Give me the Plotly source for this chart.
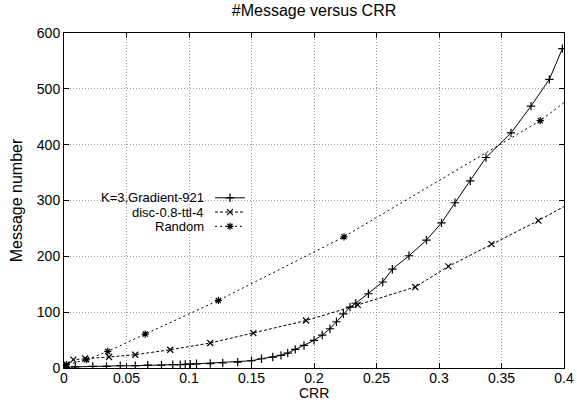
import plotly.graph_objects as go

# ---- data ----
grad_x = [0.0, 0.001, 0.009, 0.023, 0.034, 0.045, 0.057, 0.067, 0.078, 0.087, 0.093, 0.097,
          0.101, 0.106, 0.117, 0.127, 0.139, 0.150, 0.158, 0.167, 0.1736, 0.179, 0.185,
          0.192, 0.200, 0.2066, 0.2128, 0.218, 0.2235, 0.2288, 0.2334, 0.2435, 0.255,
          0.2627, 0.276, 0.290, 0.302, 0.3128, 0.325, 0.3376, 0.3576, 0.3736, 0.3883, 0.3987]
grad_y = [0, 1, 2, 3, 3, 4, 4, 5, 5, 6, 6, 6.5,
          7, 7.5, 8, 9, 10.5, 13, 16.6, 19.6, 22.6, 26.8, 33.3,
          40.4, 49.4, 59, 70.3, 82.8, 97, 109, 116, 133, 154,
          177, 201, 229, 260, 296, 335, 377, 421, 469, 517, 572]

disc_x = [0.0, 0.002, 0.0075, 0.017, 0.036, 0.057, 0.085, 0.117, 0.1515, 0.1936,
          0.235, 0.281, 0.3075, 0.342, 0.3795, 0.43]
disc_y = [2, 6, 15, 17, 19.7, 23.8, 32.7, 44.7, 62.6, 85,
          113, 145, 182, 222, 264, 326]

rand_x = [0.0, 0.002, 0.018, 0.035, 0.065, 0.1235, 0.224, 0.381, 0.42]
rand_y = [2, 6, 14.8, 29.7, 60.8, 121, 235, 443, 509]

series_names = ["K=3,Gradient-921", "disc-0.8-ttl-4", "Random"]
x_ticks = [0, 0.05, 0.1, 0.15, 0.2, 0.25, 0.3, 0.35, 0.4]
y_ticks = [0, 100, 200, 300, 400, 500, 600]

FONT = "Liberation Sans, Arial, sans-serif"
styles = [("solid", "cross-thin"), ("3px,2px", "x-thin"), ("2px,3px", "asterisk-open")]
datasets = [(grad_x, grad_y), (disc_x, disc_y), (rand_x, rand_y)]

fig = go.Figure()
for (xs, ys), (dash, sym), name in zip(datasets, styles, series_names):
    fig.add_trace(go.Scatter(
        x=xs, y=ys, mode="lines+markers", name=name, showlegend=False,
        line=dict(color="black", width=1, dash=dash),
        marker=dict(symbol=sym, size=6, color="black", line=dict(color="black", width=1.2)),
    ))

# custom gnuplot-style legend (text right-aligned, sample to the right) on an overlay axis
leg_rows = [0.508, 0.4655, 0.423]
for (dash, sym), name, ry in zip(styles, series_names, leg_rows):
    fig.add_trace(go.Scatter(
        x=[0.302, 0.332, 0.362], y=[ry, ry, ry], xaxis="x2", yaxis="y2",
        mode="lines", showlegend=False, hoverinfo="skip",
        line=dict(color="black", width=1, dash=dash)))
    fig.add_trace(go.Scatter(
        x=[0.332], y=[ry], xaxis="x2", yaxis="y2", mode="markers",
        showlegend=False, hoverinfo="skip",
        marker=dict(symbol=sym, size=6, color="black", line=dict(color="black", width=1.2))))
    fig.add_annotation(x=0.284, y=ry, xref="x2", yref="y2", text=name, showarrow=False,
                       xanchor="right", yanchor="middle",
                       font=dict(family=FONT, size=13, color="black"))

# x-axis title placed as an annotation so it can sit just under the tick labels
fig.add_annotation(x=0.5, y=0, xref="paper", yref="paper", text="CRR", showarrow=False,
                   xanchor="center", yanchor="middle", yshift=-25,
                   font=dict(family=FONT, size=14, color="black"))

axis_common = dict(
    showline=True, linecolor="black", linewidth=1, mirror="ticks",
    ticks="inside", ticklen=5, tickcolor="black", automargin=False,
    showgrid=True, gridcolor="#9a9a9a", gridwidth=1, griddash="1px,2px",
    zeroline=False, tickfont=dict(family=FONT, size=14, color="black"),
)

fig.update_layout(
    width=577, height=402,
    margin=dict(l=64, r=13, t=33, b=34),
    paper_bgcolor="white", plot_bgcolor="white",
    font=dict(family=FONT, size=15, color="black"),
    title=dict(text="#Message versus CRR", x=0.5, xanchor="center", y=0.975, yanchor="middle",
               xref="paper", font=dict(family=FONT, size=16, color="black")),
    xaxis=dict(range=[0, 0.4], tickvals=x_ticks, ticktext=[f"{v:g}" for v in x_ticks],
               ticklabelstandoff=-3, **axis_common),
    yaxis=dict(range=[0, 600], tickvals=y_ticks,
               title=dict(text="Message number", standoff=10, font=dict(size=16)),
               **axis_common),
    xaxis2=dict(overlaying="x", range=[0, 1], visible=False, fixedrange=True),
    yaxis2=dict(overlaying="y", range=[0, 1], visible=False, fixedrange=True),
)

fig.write_html("out.html")
